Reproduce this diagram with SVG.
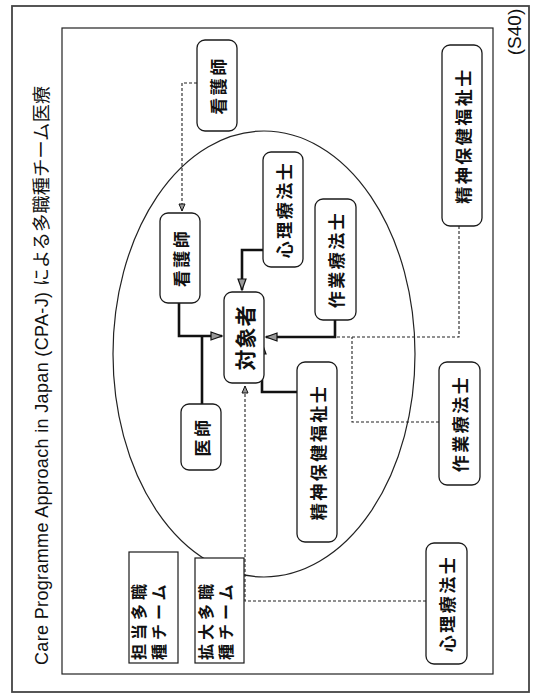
<svg xmlns="http://www.w3.org/2000/svg" width="537" height="695" viewBox="0 0 537 695">
<style>
.box{fill:#fff;stroke:#1a1a1a;stroke-width:1.3}
.sq{fill:#fff;stroke:#1a1a1a;stroke-width:1.2}
.t{font-family:"Noto Sans CJK JP","Noto Sans",sans-serif;font-weight:bold;font-size:17px;fill:#111;letter-spacing:2.5px}
.tt{font-family:"Noto Sans CJK JP","Noto Sans",sans-serif;font-weight:bold;font-size:16px;fill:#111;letter-spacing:4px}
.solid{fill:none;stroke:#111;stroke-width:2.6}
.dash{fill:none;stroke:#222;stroke-width:1.1;stroke-dasharray:3 2}
</style>
<defs>
<marker id="ah" markerUnits="userSpaceOnUse" markerWidth="14" markerHeight="12" refX="12" refY="5" orient="auto">
<path d="M1,1 L12,5 L1,9 Z" fill="#999" stroke="#111" stroke-width="1.2"/>
</marker>
<marker id="ahs" markerUnits="userSpaceOnUse" markerWidth="10" markerHeight="10" refX="8" refY="4" orient="auto">
<path d="M1,1 L8,4 L1,7 Z" fill="#999" stroke="#111" stroke-width="1"/>
</marker>
</defs>
<rect x="12" y="6" width="517" height="686" fill="#fff" stroke="#444" stroke-width="1.8"/>
<rect x="62" y="28" width="431" height="646" fill="none" stroke="#222" stroke-width="1.2"/>
<text transform="translate(42,665) rotate(-90)" font-family="'Liberation Sans','Noto Sans CJK JP',sans-serif" font-size="18" fill="#111" dominant-baseline="central" textLength="579" lengthAdjust="spacing">Care Programme Approach in Japan (CPA-J) による多職種チーム医療</text>
<text transform="translate(514,32) rotate(-90)" font-family="'Liberation Sans',sans-serif" font-size="19" fill="#111" text-anchor="middle" dominant-baseline="central">(S40)</text>
<ellipse cx="264" cy="354" rx="151" ry="223" fill="none" stroke="#222" stroke-width="1.2"/>
<g id="connectors">
<path class="dash" d="M197,83 H182 V211" marker-end="url(#ahs)"/>
<path class="solid" d="M179,303 V336 H222" marker-end="url(#ah)"/>
<path class="solid" d="M202,404 V336"/>
<path class="solid" d="M263,250 H242 V290" marker-end="url(#ah)"/>
<path class="solid" d="M335,320 V337 H266" marker-end="url(#ah)"/>
<path class="solid" d="M297,392 H262 V343" marker-end="url(#ah)"/>
<path class="dash" d="M459,226 V337 H336"/>
<path class="dash" d="M439,422 H352 V337"/>
<path class="dash" d="M426,601 H245 V386" marker-end="url(#ahs)"/>
</g>
<g id="nurse-outer"><rect class="box" x="197" y="40" width="40" height="91" rx="8"/><text class="t" transform="translate(217,85.5) rotate(-90)" text-anchor="middle" dominant-baseline="central">看護師</text></g>
<g id="psw-outer"><rect class="box" x="442" y="45" width="40" height="181" rx="8"/><text class="t" transform="translate(462,135.5) rotate(-90)" text-anchor="middle" dominant-baseline="central">精神保健福祉士</text></g>
<g id="nurse-inner"><rect class="box" x="160" y="213" width="40" height="90" rx="8"/><text class="t" transform="translate(180,258) rotate(-90)" text-anchor="middle" dominant-baseline="central">看護師</text></g>
<g id="cp-inner"><rect class="box" x="263" y="152" width="40" height="115" rx="8"/><text class="t" transform="translate(283,209.5) rotate(-90)" text-anchor="middle" dominant-baseline="central">心理療法士</text></g>
<g id="ot-inner"><rect class="box" x="315" y="199" width="41" height="121" rx="8"/><text class="t" transform="translate(335.5,259.5) rotate(-90)" text-anchor="middle" dominant-baseline="central">作業療法士</text></g>
<g id="client"><rect class="box" x="224" y="292" width="40" height="91" rx="8"/><text class="t" style="font-size:21px;letter-spacing:1px" transform="translate(244,337.5) rotate(-90)" text-anchor="middle" dominant-baseline="central">対象者</text></g>
<g id="doctor"><rect class="box" x="181" y="404" width="40" height="66" rx="8"/><text class="t" transform="translate(201,437) rotate(-90)" text-anchor="middle" dominant-baseline="central">医師</text></g>
<g id="psw-inner"><rect class="box" x="297" y="362" width="40" height="180" rx="8"/><text class="t" transform="translate(317,452) rotate(-90)" text-anchor="middle" dominant-baseline="central">精神保健福祉士</text></g>
<g id="ot-outer"><rect class="box" x="439" y="362" width="41" height="123" rx="8"/><text class="t" transform="translate(459.5,423.5) rotate(-90)" text-anchor="middle" dominant-baseline="central">作業療法士</text></g>
<g id="cp-outer"><rect class="box" x="426" y="543" width="41" height="121" rx="8"/><text class="t" transform="translate(446.5,603.5) rotate(-90)" text-anchor="middle" dominant-baseline="central">心理療法士</text></g>
<g id="team-core"><rect class="sq" x="129" y="552" width="49" height="111"/><text class="tt" transform="translate(138,660) rotate(-90)" dominant-baseline="central">担当多職</text><text class="tt" transform="translate(158,660) rotate(-90)" dominant-baseline="central">種チーム</text></g>
<g id="team-ext"><rect class="sq" x="195" y="558" width="49" height="105"/><text class="tt" transform="translate(205,660) rotate(-90)" dominant-baseline="central">拡大多職</text><text class="tt" transform="translate(225,660) rotate(-90)" dominant-baseline="central">種チーム</text></g>
</svg>
